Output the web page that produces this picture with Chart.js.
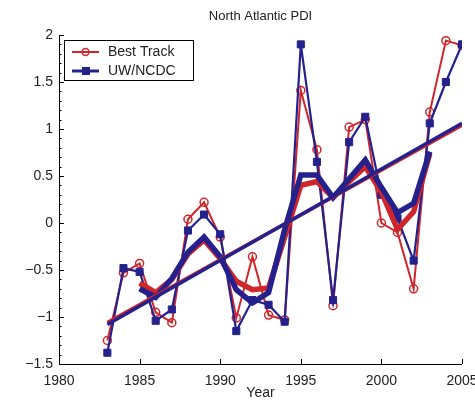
<!DOCTYPE html>
<html>
<head>
<meta charset="utf-8">
<script src="https://cdn.jsdelivr.net/npm/chart.js@4/dist/chart.umd.min.js"></script>
<style>
  html, body { margin: 0; padding: 0; background: #fff; }
  #wrap { width: 475px; height: 400px; }
</style>
</head>
<body>
<div id="wrap"><canvas id="chart"></canvas></div>
<script>
// values
const years = [1983, 1984, 1985, 1986, 1987, 1988, 1989, 1990, 1991, 1992, 1993, 1994,
    1995, 1996, 1997, 1998, 1999, 2000, 2001, 2002, 2003, 2004, 2005];
const bestTrack = [-1.25, -0.53, -0.43, -0.95, -1.06, 0.04, 0.22, -0.15, -1.01, -0.36, -0.98, -1.03,
    1.41, 0.78, -0.88, 1.02, 1.10, 0.00, -0.10, -0.70, 1.18, 1.94, 1.89];
const uwNcdc = [-1.38, -0.48, -0.52, -1.04, -0.92, -0.08, 0.09, -0.12, -1.15, -0.82, -0.87, -1.05,
    1.90, 0.65, -0.82, 0.86, 1.13, 0.30, 0.05, -0.40, 1.06, 1.50, 1.90];

const smoothYears = [1985, 1986, 1987, 1988, 1989, 1990, 1991, 1992, 1993, 1994,
    1995, 1996, 1997, 1998, 1999, 2000, 2001, 2002, 2003];
const bestSmooth = [-0.64, -0.74, -0.60, -0.33, -0.18, -0.38, -0.62, -0.71, -0.69, -0.15,
    0.40, 0.44, 0.27, 0.44, 0.60, 0.33, -0.07, 0.12, 0.74];
const uwSmooth = [-0.70, -0.79, -0.59, -0.31, -0.15, -0.36, -0.71, -0.85, -0.74, -0.07,
    0.51, 0.51, 0.27, 0.47, 0.67, 0.38, 0.11, 0.21, 0.76];

const trendYears = [1983, 2005];
const bestTrend = [-1.06, 1.04];
const uwTrend = [-1.08, 1.06];

const xTicks = [1980, 1985, 1990, 1995, 2000, 2005];
const yTicks = [-1.5, -1, -0.5, 0, 0.5, 1, 1.5, 2];
const legendLabels = ['Best Track', 'UW/NCDC'];

const red = '#d0262b';
const blue = '#24218c';
const fontFamily = '"Liberation Sans", Arial, Helvetica, sans-serif';

const toPoints = (xs, ys) => xs.map((x, i) => ({ x, y: ys[i] }));

// MATLAB-style axes: left and bottom lines, inward ticks, minor ticks on y
const axesPlugin = {
    id: 'matlabAxes',
    afterDatasetsDraw(chart) {
        const { ctx, chartArea, scales } = chart;
        const { left, right, top, bottom } = chartArea;
        ctx.save();
        ctx.strokeStyle = '#000';
        ctx.lineWidth = 1;
        ctx.beginPath();
        ctx.moveTo(left + 0.5, top);
        ctx.lineTo(left + 0.5, bottom + 0.5);
        ctx.lineTo(right, bottom + 0.5);
        yTicks.forEach((v) => {
            const y = Math.round(scales.y.getPixelForValue(v)) + 0.5;
            ctx.moveTo(left, y);
            ctx.lineTo(left + 5, y);
        });
        for (let v = -1.5; v <= 2.0001; v += 0.1) {
            const y = Math.round(scales.y.getPixelForValue(v)) + 0.5;
            ctx.moveTo(left, y);
            ctx.lineTo(left + 2.5, y);
        }
        xTicks.forEach((v) => {
            const x = Math.round(scales.x.getPixelForValue(v)) + 0.5;
            ctx.moveTo(x, bottom);
            ctx.lineTo(x, bottom - 5);
        });
        ctx.stroke();
        ctx.restore();
    },
    afterDraw(chart) {
        const { ctx } = chart;
        const bx = 64.5;
        const by = 40.5;
        ctx.save();
        ctx.fillStyle = '#fff';
        ctx.fillRect(bx, by, 129, 40);
        ctx.strokeStyle = '#000';
        ctx.lineWidth = 1;
        ctx.strokeRect(bx, by, 129, 40);

        const rows = [
            { y: 52, color: red, label: legendLabels[0], circle: true },
            { y: 71, color: blue, label: legendLabels[1], circle: false },
        ];
        rows.forEach((row) => {
            ctx.strokeStyle = row.color;
            ctx.lineWidth = row.circle ? 2 : 3;
            ctx.beginPath();
            ctx.moveTo(72, row.y);
            ctx.lineTo(99, row.y);
            ctx.stroke();
            if (row.circle) {
                ctx.lineWidth = 1.5;
                ctx.beginPath();
                ctx.arc(85.5, row.y, 3.5, 0, Math.PI * 2);
                ctx.stroke();
            } else {
                ctx.fillStyle = row.color;
                ctx.fillRect(82, row.y - 4, 8, 8);
            }
            ctx.fillStyle = '#222';
            ctx.font = `14px ${fontFamily}`;
            ctx.textBaseline = 'middle';
            ctx.fillText(row.label, 108, row.y);
        });
        ctx.restore();
    },
};

new Chart(document.getElementById('chart'), {
    type: 'line',
    data: {
        datasets: [
            {
                label: 'Best Track',
                data: toPoints(years, bestTrack),
                borderColor: red,
                borderWidth: 2,
                pointStyle: 'circle',
                pointRadius: 4,
                pointBorderWidth: 1.5,
                pointBorderColor: red,
                pointBackgroundColor: 'rgba(255,255,255,0)',
                order: 6,
            },
            {
                label: 'UW/NCDC',
                data: toPoints(years, uwNcdc),
                borderColor: blue,
                borderWidth: 2.2,
                pointStyle: 'rect',
                pointRadius: 5,
                pointBorderWidth: 1,
                pointBorderColor: blue,
                pointBackgroundColor: blue,
                order: 5,
            },
            {
                label: 'Best Track smoothed',
                data: toPoints(smoothYears, bestSmooth),
                borderColor: red,
                borderWidth: 5.5,
                pointRadius: 0,
                order: 4,
            },
            {
                label: 'UW/NCDC smoothed',
                data: toPoints(smoothYears, uwSmooth),
                borderColor: blue,
                borderWidth: 5.5,
                pointRadius: 0,
                order: 3,
            },
            {
                label: 'Best Track trend',
                data: toPoints(trendYears, bestTrend),
                borderColor: red,
                borderWidth: 3.5,
                pointRadius: 0,
                order: 2,
            },
            {
                label: 'UW/NCDC trend',
                data: toPoints(trendYears, uwTrend),
                borderColor: blue,
                borderWidth: 3.5,
                pointRadius: 0,
                order: 1,
            },
        ],
    },
    options: {
        responsive: true,
        maintainAspectRatio: false,
        animation: false,
        layout: { padding: { left: 0, right: 13, top: 0, bottom: 0 } },
        elements: { line: { tension: 0, borderJoinStyle: 'miter' } },
        plugins: {
            legend: { display: false },
            tooltip: { enabled: false },
            title: {
                display: true,
                text: 'North Atlantic PDI',
                fullSize: false,
                color: '#222',
                font: { family: fontFamily, size: 13, weight: 'normal', lineHeight: 1.2 },
                padding: { top: 9, bottom: 10.4 },
            },
        },
        scales: {
            x: {
                type: 'linear',
                min: 1980,
                max: 2005,
                grid: { display: false, drawTicks: false },
                border: { display: false },
                afterBuildTicks: (scale) => { scale.ticks = xTicks.map((value) => ({ value })); },
                afterFit: (scale) => {
                    scale.height = 36;
                    scale.paddingLeft = 0;
                    scale.paddingRight = 0;
                },
                ticks: {
                    color: '#222',
                    padding: 9,
                    maxRotation: 0,
                    autoSkip: false,
                    font: { family: fontFamily, size: 14 },
                    callback: (value) => String(value),
                },
                title: {
                    display: true,
                    text: 'Year',
                    color: '#222',
                    font: { family: fontFamily, size: 14, lineHeight: 1 },
                    padding: { top: 0, bottom: 0 },
                },
            },
            y: {
                type: 'linear',
                min: -1.5,
                max: 2,
                grid: { display: false, drawTicks: false },
                border: { display: false },
                afterBuildTicks: (scale) => { scale.ticks = yTicks.map((value) => ({ value })); },
                afterFit: (scale) => {
                    scale.width = 59;
                    scale.paddingTop = 0;
                    scale.paddingBottom = 0;
                },
                ticks: {
                    color: '#222',
                    padding: 6,
                    autoSkip: false,
                    font: { family: fontFamily, size: 14 },
                    callback: (value) => String(value).replace('-', '\u2212'),
                },
            },
        },
    },
    plugins: [axesPlugin],
});
</script>
</body>
</html>
